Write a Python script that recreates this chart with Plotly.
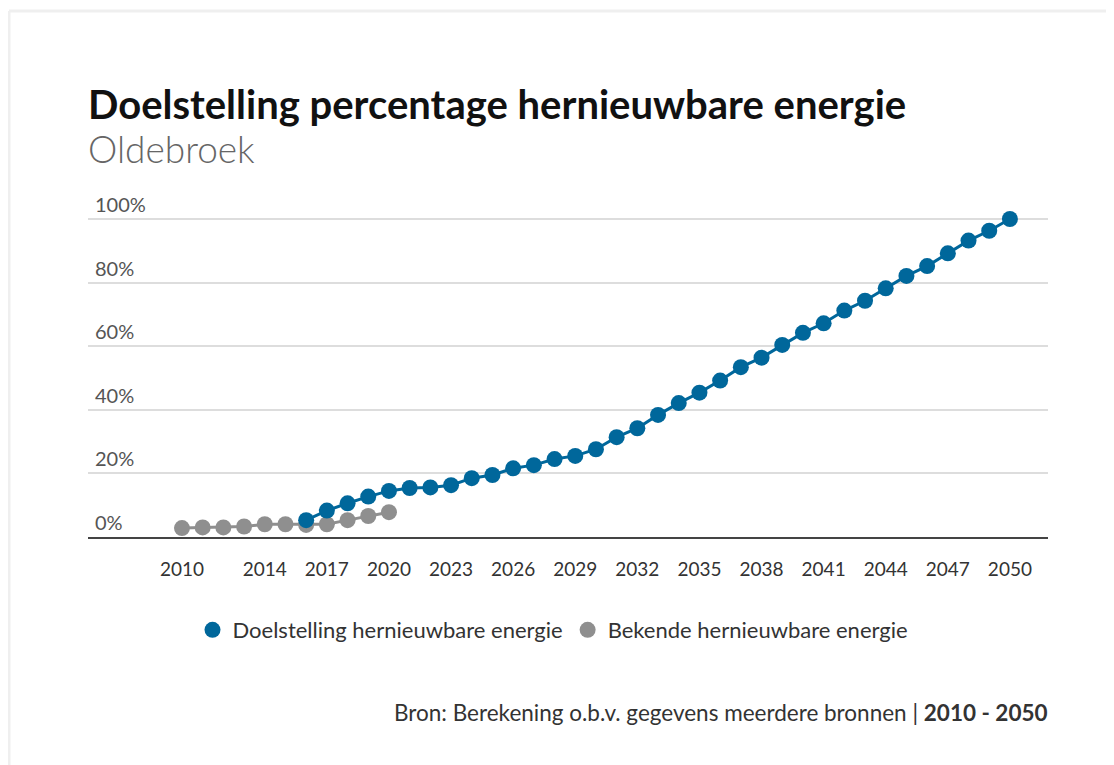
import plotly.graph_objects as go

years_doel = list(range(2016, 2051))
doel = [5.3, 8.3, 10.6, 12.7, 14.5, 15.4, 15.6, 16.3, 18.5, 19.5,
        21.6, 22.6, 24.5, 25.5, 27.6, 31.4, 34.2, 38.4, 42.1, 45.4,
        49.2, 53.4, 56.4, 60.4, 64.2, 67.2, 71.2, 74.3, 78.2, 82.1,
        85.2, 89.2, 93.2, 96.3, 100]

years_bekend = list(range(2010, 2021))
bekend = [2.8, 3.0, 3.0, 3.3, 4.0, 4.0, 3.8, 4.0, 5.3, 6.6, 7.8]

tick_years = [2010, 2014, 2017, 2020, 2023, 2026, 2029, 2032, 2035, 2038, 2041, 2044, 2047, 2050]
y_ticks = [0, 20, 40, 60, 80, 100]
y_labels = [f"{v}%" for v in y_ticks]

blue = "#00679b"
grey = "#8f8f8f"
font = "Lato, 'Noto Sans', sans-serif"

fig = go.Figure()
# lines first (no legend), then the markers that carry the legend entries
fig.add_trace(go.Scatter(x=years_bekend, y=bekend, mode="lines", line=dict(color=grey, width=3),
                         showlegend=False, hoverinfo="skip"))
fig.add_trace(go.Scatter(x=years_bekend, y=bekend, name="Bekende hernieuwbare energie",
                         mode="markers", marker=dict(size=16, color=grey), legendrank=2,
                         cliponaxis=False))
fig.add_trace(go.Scatter(x=years_doel, y=doel, mode="lines", line=dict(color=blue, width=3),
                         showlegend=False, hoverinfo="skip"))
fig.add_trace(go.Scatter(x=years_doel, y=doel, name="Doelstelling hernieuwbare energie",
                         mode="markers", marker=dict(size=16, color=blue), legendrank=1,
                         cliponaxis=False))

# page has an 8px body margin; reference pixel coords are converted below
OFF = 8
FW, FH = 1114 - 2 * OFF, 765 - OFF
L, T, R, B = 88, 172, 1048, 537   # plot area in reference pixels
ymax = 100 + (219 - T) / ((B - 219) / 100)

def px(x):
    return (x - L) / (R - L)

def py(y):
    return (B - y) / (B - T)

fig.update_layout(
    width=FW, height=FH,
    margin=dict(l=L - OFF, r=FW - (R - OFF), t=T - OFF, b=FH - (B - OFF), pad=0),
    paper_bgcolor="white", plot_bgcolor="white",
    font=dict(family=font, color="#333333"),
    showlegend=True,
    legend=dict(orientation="h", x=px(553), xanchor="center", y=py(630), yanchor="middle",
                font=dict(size=22, color="#333333"), traceorder="normal", itemwidth=30),
    xaxis=dict(range=[2005.46, 2051.84], tickvals=tick_years, showgrid=False,
               showline=True, linecolor="#444444", linewidth=2,
               ticks="", ticklabelstandoff=14, tickfont=dict(size=19, color="#333333"),
               zeroline=False),
    yaxis=dict(range=[0, ymax], tickvals=y_ticks, ticktext=y_labels,
               ticklabelposition="inside top", showgrid=True, gridcolor="#dddddd",
               gridwidth=2, zeroline=False, tickfont=dict(size=20, color="#555555"),
               ticklabelstandoff=4),
    annotations=[
        dict(text="<b>Doelstelling percentage hernieuwbare energie</b>", xref="paper", yref="paper",
             x=px(86), y=py(104), xanchor="left", yanchor="middle", showarrow=False,
             font=dict(size=40, color="#111111")),
        dict(text="Oldebroek", xref="paper", yref="paper",
             x=px(86), y=py(148), xanchor="left", yanchor="middle", showarrow=False,
             font=dict(size=37, color="#666666", family="'Lato Light', Lato, sans-serif")),
        dict(text="Bron: Berekening o.b.v. gegevens meerdere bronnen | <b>2010 - 2050</b>",
             xref="paper", yref="paper", x=px(1050), y=py(712), xanchor="right", yanchor="middle",
             showarrow=False, font=dict(size=22.5, color="#333333")),
    ],
    shapes=[
        dict(type="line", xref="paper", yref="paper", x0=px(9), x1=px(9), y0=py(11), y1=py(780),
             line=dict(color="#efefef", width=3)),
        dict(type="line", xref="paper", yref="paper", x0=px(9), x1=px(1120), y0=py(11), y1=py(11),
             line=dict(color="#efefef", width=3)),
    ],
)

fig.write_html("out.html")
